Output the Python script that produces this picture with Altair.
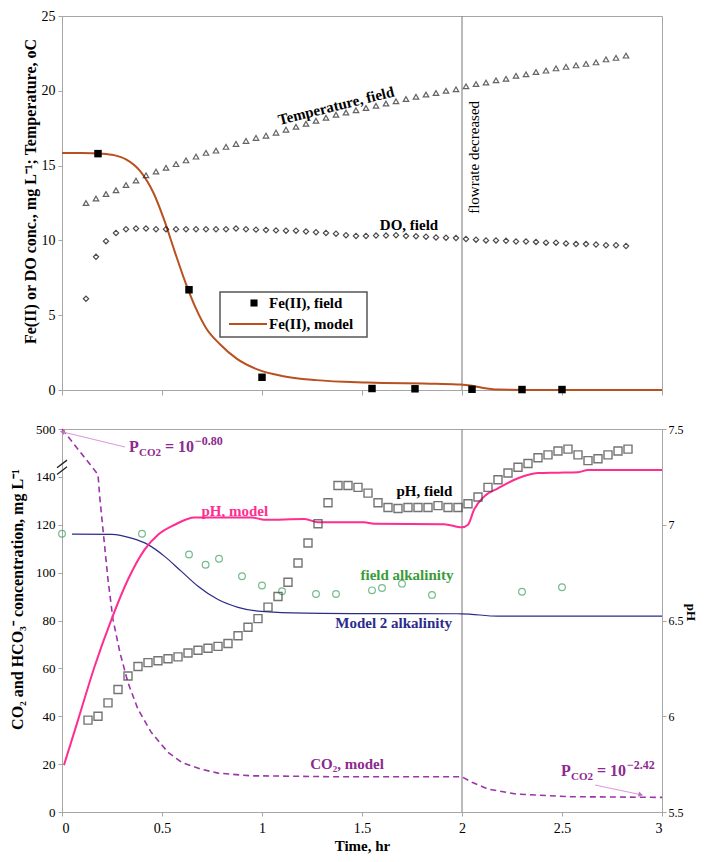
import altair as alt
import pandas as pd

# ---------------- top panel data ----------------
TEMP_T = [0.12, 0.17, 0.22, 0.27, 0.32, 0.37, 0.42, 0.47, 0.52, 0.57, 0.62, 0.67, 0.72, 0.77,
          0.82, 0.87, 0.92, 0.97, 1.02, 1.07, 1.12, 1.17, 1.22, 1.27, 1.32, 1.37, 1.42, 1.47,
          1.52, 1.57, 1.62, 1.67, 1.72, 1.77, 1.82, 1.87, 1.92, 1.97, 2.02, 2.07, 2.12, 2.17,
          2.22, 2.27, 2.32, 2.37, 2.42, 2.47, 2.52, 2.57, 2.62, 2.67, 2.72, 2.77, 2.82]
TEMP_C = [12.5, 12.8, 13.1, 13.35, 13.7, 14.0, 14.35, 14.6, 14.85, 15.1, 15.35, 15.6, 15.85, 16.0,
          16.25, 16.45, 16.65, 16.85, 17.0, 17.2, 17.4, 17.6, 17.8, 18.0, 18.2, 18.4, 18.55, 18.7,
          18.85, 19.0, 19.15, 19.3, 19.45, 19.6, 19.75, 19.85, 20.0, 20.1, 20.3, 20.45, 20.55, 20.7,
          20.8, 21.0, 21.1, 21.25, 21.35, 21.5, 21.6, 21.7, 21.8, 21.9, 22.1, 22.2, 22.35]
DO_MG = [6.1, 8.9, 9.95, 10.5, 10.75, 10.8, 10.8, 10.75, 10.75, 10.75, 10.75, 10.75, 10.75, 10.75,
         10.75, 10.8, 10.75, 10.72, 10.7, 10.67, 10.65, 10.65, 10.6, 10.55, 10.5, 10.45, 10.35, 10.3,
         10.3, 10.32, 10.32, 10.35, 10.3, 10.28, 10.25, 10.2, 10.18, 10.16, 10.1, 10.05, 10.0, 10.0,
         9.97, 9.93, 9.93, 9.9, 9.85, 9.85, 9.8, 9.76, 9.76, 9.72, 9.68, 9.68, 9.62]
FE_FIELD_T = [0.18, 0.635, 1.0, 1.55, 1.765, 2.05, 2.3, 2.5]
FE_FIELD = [15.8, 6.7, 0.85, 0.1, 0.08, 0.05, 0.03, 0.03]
FE_MODEL_T = [0.0, 0.1, 0.2, 0.26, 0.32, 0.39, 0.46, 0.51, 0.565, 0.617, 0.669, 0.72, 0.79,
              0.875, 0.98, 1.1, 1.27, 1.53, 1.87, 1.99, 2.05, 2.1, 2.18, 2.4, 3.0]
FE_MODEL = [15.85, 15.85, 15.8, 15.7, 15.42, 14.65, 13.1, 11.4, 9.2, 7.2, 5.47, 4.15, 3.06,
            2.08, 1.36, 0.94, 0.66, 0.5, 0.42, 0.37, 0.28, 0.15, 0.03, 0.0, 0.0]

# ---------------- bottom panel data ----------------
PH_FIELD_T = [0.13, 0.18, 0.23, 0.28, 0.33, 0.38, 0.43, 0.48, 0.53, 0.58, 0.63, 0.68, 0.73, 0.78,
              0.83, 0.88, 0.93, 0.98, 1.03, 1.08, 1.13, 1.18, 1.23, 1.28, 1.33, 1.38, 1.43, 1.48,
              1.53, 1.58, 1.63, 1.68, 1.73, 1.78, 1.83, 1.88, 1.93, 1.98, 2.03, 2.08, 2.13, 2.18,
              2.23, 2.28, 2.33, 2.38, 2.43, 2.48, 2.53, 2.58, 2.63, 2.68, 2.73, 2.78, 2.83]
PH_FIELD = [5.98, 6.00, 6.07, 6.14, 6.21, 6.26, 6.28, 6.29, 6.30, 6.31, 6.33, 6.345, 6.355, 6.365,
            6.38, 6.42, 6.465, 6.51, 6.57, 6.625, 6.70, 6.80, 6.905, 7.005, 7.115, 7.205, 7.205, 7.195,
            7.165, 7.115, 7.09, 7.085, 7.09, 7.09, 7.09, 7.10, 7.09, 7.09, 7.11, 7.145, 7.195, 7.235,
            7.27, 7.30, 7.32, 7.35, 7.365, 7.385, 7.395, 7.365, 7.335, 7.345, 7.365, 7.385, 7.395]
PH_MODEL_T = [0.01, 0.08, 0.163, 0.247, 0.33, 0.413, 0.48, 0.563, 0.663, 0.95, 1.013, 1.213, 1.28,
              1.51, 1.56, 1.91, 2.0, 2.03, 2.06, 2.11, 2.18, 2.28, 2.38, 2.48, 2.58, 2.63, 3.0]
PH_MODEL = [5.745, 5.98, 6.26, 6.505, 6.714, 6.87, 6.948, 7.0, 7.038, 7.038, 7.026, 7.03, 7.013,
            7.013, 7.005, 7.003, 6.987, 7.0, 7.078, 7.147, 7.19, 7.243, 7.27, 7.272, 7.274, 7.286, 7.286]
ALK_MODEL_T = [0.05, 0.25, 0.347, 0.43, 0.513, 0.597, 0.68, 0.78, 0.88, 0.98, 1.15, 1.5, 2.0, 2.18, 3.0]
ALK_MODEL = [116.1, 116.0, 114.4, 111.7, 106.8, 100.5, 94.3, 88.75, 85.5, 83.9, 83.2, 82.9, 82.8, 81.8, 81.8]
ALK_FIELD_T = [0.0, 0.40, 0.635, 0.718, 0.785, 0.90, 1.0, 1.10, 1.27, 1.37, 1.55, 1.60, 1.70, 1.85, 2.30, 2.50]
ALK_FIELD = [116.25, 116.25, 107.6, 103.3, 105.8, 98.5, 94.6, 92.2, 91.1, 91.1, 92.6, 93.6, 95.4, 90.7, 92.0, 93.9]
CO2_MODEL_T = [0.0, 0.18, 0.19, 0.205, 0.23, 0.255, 0.29, 0.33, 0.38, 0.447, 0.53, 0.6, 0.647, 0.7,
               0.78, 0.947, 1.0, 1.38, 2.0, 2.05, 2.13, 2.27, 2.54, 3.0]
CO2_MODEL = [500, 141, 130.4, 117.9, 97.1, 80.4, 66.5, 54.0, 42.9, 33.2, 24.9, 20.7, 19.3, 17.8,
             16.25, 15.1, 15.1, 14.7, 14.7, 12.4, 9.6, 7.5, 6.4, 6.1]
FLOW_CHANGE_T = [2.0]

X_TICKS = [0, 0.5, 1, 1.5, 2, 2.5, 3]
TOP_Y_TICKS = [0, 5, 10, 15, 20, 25]
BOT_Y_TICKS = [0, 20, 40, 60, 80, 100, 120, 140, 160]
PH_TICKS = [5.5, 6, 6.5, 7, 7.5]
BREAK_AT = 160          # axis position where the 500 mg/L value is drawn

# ---------------- styling ----------------
FONT = "Liberation Serif"
GRAY = "#A6A6A6"
BROWN = "#B8501F"
PINK = "#FF2D8F"
NAVY = "#2B2B8C"
GREEN = "#3C9F5C"
GREEN_TXT = "#3A9A3A"
PURPLE = "#9B35A8"
PURPLE_TXT = "#8E2A8E"
ARROW = "#DC9ADC"
W = 600
H_TOP = 374
H_BOT = 383

x_scale = alt.Scale(domain=[0, 3], nice=False, zero=False)
top_x_axis = alt.Axis(values=X_TICKS, labels=False, title=None, tickSize=5)
bot_x_axis = alt.Axis(values=X_TICKS, format="~g", title="Time, hr", tickSize=4, labelPadding=5,
                      titleY=33, titleBaseline="middle", labelFontSize=14, titleFontSize=15)

top_y_scale = alt.Scale(domain=[0, 25], nice=False)
top_y_axis = alt.Axis(values=TOP_Y_TICKS, format="d", tickSize=4, labelPadding=3, labelFontSize=14,
                      title="Fe(II) or DO conc., mg L\u207b\u00b9; Temperature, oC",
                      titleX=-32, titleY=175, titleAngle=270, titleBaseline="middle")

left_scale = alt.Scale(domain=[0, BREAK_AT], nice=False)
left_axis = alt.Axis(values=BOT_Y_TICKS, tickSize=4, labelPadding=3, labelFontSize=13,
                     labelExpr="datum.value == 160 ? '500' : datum.label",
                     title="CO\u2082 and HCO\u2083\u207b concentration, mg L\u207b\u00b9",
                     titleX=-45, titleY=170, titleAngle=270, titleBaseline="middle")
right_scale = alt.Scale(domain=[5.5, 7.5], nice=False, zero=False)
right_axis = alt.Axis(orient="right", values=PH_TICKS, format="~g", tickSize=4, labelPadding=2,
                      labelFontSize=12, title="pH", titleX=28, titleY=183, titleAngle=90,
                      titleBaseline="middle", titleFontSize=13)

XT = alt.X("t:Q", scale=x_scale, axis=top_x_axis)
XB = alt.X("t:Q", scale=x_scale, axis=bot_x_axis)
YT = alt.Y("v:Q", scale=top_y_scale, axis=top_y_axis)


def YL(field="v"):
    return alt.Y(f"{field}:Q", scale=left_scale, axis=left_axis)


YR = alt.Y("v:Q", scale=right_scale, axis=right_axis)

one = pd.DataFrame({"a": [0]})

# ---------------- top panel ----------------
df_temp = pd.DataFrame({"t": TEMP_T, "v": TEMP_C})
df_do = pd.DataFrame({"t": TEMP_T, "v": DO_MG})
df_fef = pd.DataFrame({"t": FE_FIELD_T, "v": FE_FIELD})
df_fem = pd.DataFrame({"t": FE_MODEL_T, "v": FE_MODEL})
df_flow = pd.DataFrame({"t": FLOW_CHANGE_T})

flow_top = alt.Chart(df_flow).mark_rule(color="#8C8C8C", strokeWidth=1.2).encode(x=XT)
fe_model = alt.Chart(df_fem).mark_line(color=BROWN, strokeWidth=2, interpolate="monotone").encode(x=XT, y=YT)
temp = alt.Chart(df_temp).mark_point(shape="triangle-up", filled=False, size=30, color="#222222",
                                     strokeWidth=1.2).encode(x=XT, y=YT)
do_pts = alt.Chart(df_do).mark_point(shape="diamond", filled=False, size=28, color="#000000",
                                     strokeWidth=1.2).encode(x=XT, y=YT)
fe_field = alt.Chart(df_fef).mark_point(shape="square", filled=True, size=56, color="black",
                                        opacity=1).encode(x=XT, y=YT)

txt_temp = alt.Chart(pd.DataFrame({"t": [1.37], "v": [19.0], "s": ["Temperature, field"]})).mark_text(
    font=FONT, fontSize=15, fontWeight="bold", angle=346, color="black").encode(x=XT, y=YT, text="s:N")
txt_do = alt.Chart(pd.DataFrame({"t": [1.735], "v": [11.0], "s": ["DO, field"]})).mark_text(
    font=FONT, fontSize=15, fontWeight="bold", color="black").encode(x=XT, y=YT, text="s:N")
txt_flow = alt.Chart(pd.DataFrame({"t": [2.06], "v": [15.55], "s": ["flowrate decreased"]})).mark_text(
    font=FONT, fontSize=15, angle=270, color="black").encode(x=XT, y=YT, text="s:N")

leg_box = alt.Chart(one).mark_rect(fill="white", stroke="#555555", strokeWidth=1.5).encode(
    x=alt.value(158), x2=alt.value(305), y=alt.value(276), y2=alt.value(321))
leg_sq = alt.Chart(one).mark_point(shape="square", filled=True, size=50, color="black", opacity=1).encode(
    x=alt.value(192), y=alt.value(287))
leg_line = alt.Chart(one).mark_rule(color=BROWN, strokeWidth=2).encode(
    x=alt.value(167), x2=alt.value(205), y=alt.value(308))
leg_t1 = alt.Chart(pd.DataFrame({"s": ["Fe(II), field"]})).mark_text(
    font=FONT, fontSize=15, fontWeight="bold", align="left", color="black").encode(
    x=alt.value(207), y=alt.value(287), text="s:N")
leg_t2 = alt.Chart(pd.DataFrame({"s": ["Fe(II), model"]})).mark_text(
    font=FONT, fontSize=15, fontWeight="bold", align="left", color="black").encode(
    x=alt.value(207), y=alt.value(308), text="s:N")

top = alt.layer(flow_top, fe_model, temp, do_pts, fe_field, txt_temp, txt_do, txt_flow,
                leg_box, leg_sq, leg_line, leg_t1, leg_t2).properties(width=W, height=H_TOP)

# ---------------- bottom panel ----------------
df_co2 = pd.DataFrame({"t": CO2_MODEL_T, "co2": CO2_MODEL})
df_alkm = pd.DataFrame({"t": ALK_MODEL_T, "v": ALK_MODEL})
df_alkf = pd.DataFrame({"t": ALK_FIELD_T, "v": ALK_FIELD})
df_phf = pd.DataFrame({"t": PH_FIELD_T, "v": PH_FIELD})
df_phm = pd.DataFrame({"t": PH_MODEL_T, "v": PH_MODEL})

flow_bot = alt.Chart(df_flow).mark_rule(color="#8C8C8C", strokeWidth=1.2).encode(x=XB)
co2 = alt.Chart(df_co2).transform_calculate(
    v=f"datum.co2 > {BREAK_AT} ? {BREAK_AT} : datum.co2").mark_line(
    color=PURPLE, strokeWidth=1.6, strokeDash=[6, 4]).encode(x=XB, y=YL())
alk_m = alt.Chart(df_alkm).mark_line(color=NAVY, strokeWidth=1.2, interpolate="monotone").encode(x=XB, y=YL())
alk_f = alt.Chart(df_alkf).mark_point(shape="circle", filled=False, size=45, color=GREEN,
                                      strokeWidth=1.2).encode(x=XB, y=YL())


def label(t, v, s, color, size=15):
    return alt.Chart(pd.DataFrame({"t": [t], "v": [v], "s": [s]})).mark_text(
        font=FONT, fontSize=size, fontWeight="bold", color=color).encode(x=XB, y=YL(), text="s:N")


lab_phm = label(0.864, 125.8, "pH, model", PINK)
lab_phf = label(1.812, 134.0, "pH, field", "black")
lab_alkf = label(1.725, 99.2, "field alkalinity", GREEN_TXT)
lab_alkm = label(1.658, 78.75, "Model 2 alkalinity", NAVY)
lab_co2 = label(1.425, 20.0, "CO\u2082, model", PURPLE_TXT)

# P_CO2 annotations: anchor (t, v) and exponent
df_pco2 = pd.DataFrame({"t": [0.335, 2.495], "v": [150.4, 15.0], "e": ["\u22120.80", "\u22122.42"]})


def piece(txt, size, dx, dy):
    base = alt.Chart(df_pco2).mark_text(font=FONT, fontSize=size, fontWeight="bold", color=PURPLE_TXT,
                                        align="left", baseline="alphabetic", dx=dx, dy=dy)
    if txt == "e":
        return base.encode(x=XB, y=YL(), text="e:N")
    return base.encode(x=XB, y=YL(), text=alt.value(txt))


p1 = piece("P", 16, 0, 0)
p2 = piece("CO2", 11, 10, 4)
p3 = piece("= 10", 16, 36, 0)
p4 = piece("e", 12, 66, -7)

df_arrows = pd.DataFrame({"t1": [0.315, 2.665], "v1": [152.5, 11.25],
                          "t2": [0.005, 2.89], "v2": [158.75, 7.3], "ang": [283.6, 101.7]})
arrows = alt.Chart(df_arrows).mark_rule(color=ARROW, strokeWidth=1.1, clip=False).encode(
    x=alt.X("t1:Q", scale=x_scale, axis=bot_x_axis), x2="t2:Q",
    y=alt.Y("v1:Q", scale=left_scale, axis=left_axis), y2="v2:Q")
heads = alt.Chart(df_arrows).mark_point(shape="triangle", filled=True, size=28, color="#C070C0",
                                        opacity=1, clip=False).encode(
    x=alt.X("t2:Q", scale=x_scale, axis=bot_x_axis),
    y=alt.Y("v2:Q", scale=left_scale, axis=left_axis),
    angle=alt.Angle("ang:Q", scale=None))

df_break = pd.DataFrame({"t1": [-0.025, -0.025], "v1": [141.0, 143.8],
                         "t2": [0.025, 0.025], "v2": [144.2, 147.0]})
breaks = alt.Chart(df_break).mark_rule(color="#222222", strokeWidth=1.3, clip=False).encode(
    x=alt.X("t1:Q", scale=x_scale, axis=bot_x_axis), x2="t2:Q",
    y=alt.Y("v1:Q", scale=left_scale, axis=left_axis), y2="v2:Q")

left_layer = alt.layer(flow_bot, co2, alk_m, alk_f, lab_phm, lab_phf, lab_alkf, lab_alkm, lab_co2,
                       arrows, heads, p1, p2, p3, p4, breaks)

ph_m = alt.Chart(df_phm).mark_line(color=PINK, strokeWidth=2, interpolate="monotone").encode(x=XB, y=YR)
ph_f = alt.Chart(df_phf).mark_point(shape="square", filled=False, size=64, color="#3A3A3A",
                                    strokeWidth=1.4).encode(x=XB, y=YR)
right_layer = alt.layer(ph_m, ph_f)

bottom = alt.layer(left_layer, right_layer).resolve_scale(y="independent").properties(width=W, height=H_BOT)

chart = alt.vconcat(top, bottom, spacing=39, bounds="flush").properties(
    padding={"left": 0, "top": 0, "right": 0, "bottom": 0}
).configure_view(stroke=GRAY, strokeWidth=1).configure_axis(
    domainColor=GRAY, tickColor=GRAY, grid=False, labelFont=FONT, titleFont=FONT,
    labelColor="black", titleColor="black", titleFontSize=16, titleFontWeight="bold"
)

chart.save("out.html", embed_options={"renderer": "svg", "actions": False})
